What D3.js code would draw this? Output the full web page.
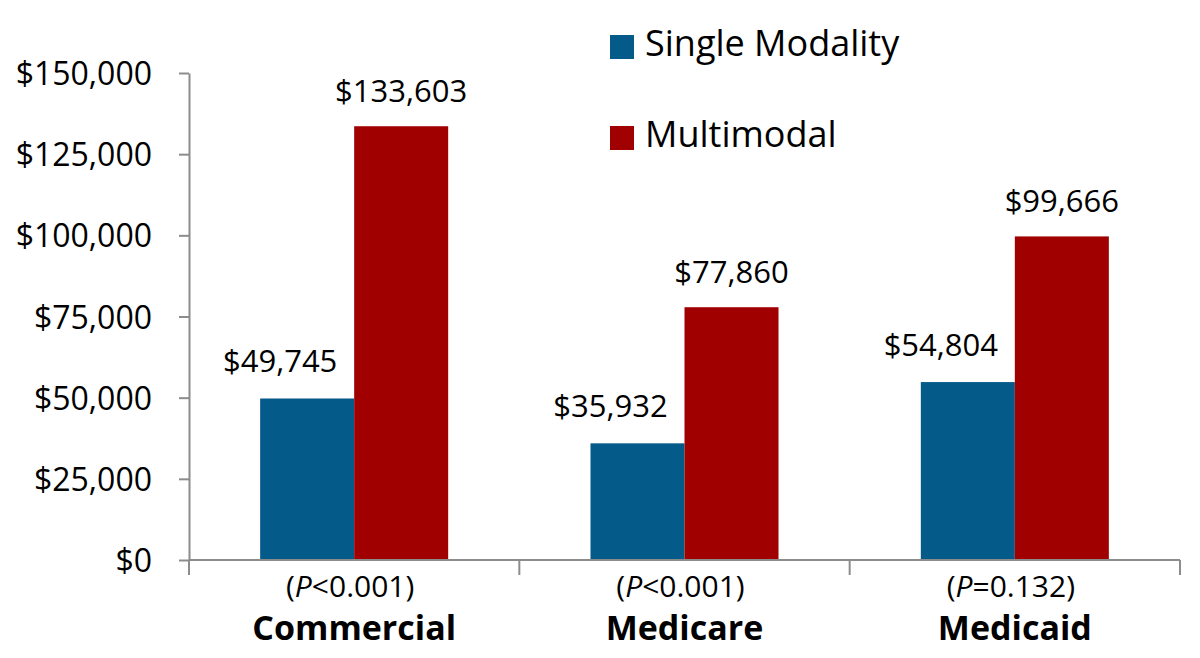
<!DOCTYPE html>
<html>
<head>
<meta charset="utf-8">
<script src="https://cdn.jsdelivr.net/npm/d3@7"></script>
<style>
  html, body { margin: 0; padding: 0; background: #fff; }
  svg { display: block; font-family: "Open Sans", "Noto Sans", sans-serif; }
</style>
</head>
<body>
<svg id="chart" width="1200" height="658"></svg>
<script>
const categories = ["Commercial", "Medicare", "Medicaid"];
const pValues = ["<0.001", "<0.001", "=0.132"];
const seriesNames = ["Single Modality", "Multimodal"];
const singleModality = [49745, 35932, 54804];
const multimodal = [133603, 77860, 99666];
const yTicks = [0, 25000, 50000, 75000, 100000, 125000, 150000];
const colors = ["#045A88", "#A00000"];

const W = 1200, H = 658;
const margin = { top: 73, right: 20, bottom: 98, left: 189 };
const svg = d3.select("#chart");

const x0 = d3.scaleBand().domain(categories)
  .range([margin.left, W - margin.right]).paddingInner(0).paddingOuter(0);
const x1 = d3.scaleBand().domain(seriesNames)
  .range([0, x0.bandwidth()]).paddingInner(0).paddingOuter(0.757);
const y = d3.scaleLinear().domain([0, 150000]).range([H - margin.bottom, margin.top]);

const fmt = d3.format("$,");
const axisColor = "#8C8C8C";

// Y axis
const yAxis = svg.append("g")
  .attr("transform", `translate(${margin.left},0)`)
  .call(d3.axisLeft(y).tickValues(yTicks).tickFormat(fmt).tickSize(10).tickSizeOuter(0).tickPadding(27));
yAxis.select(".domain").attr("stroke", axisColor).attr("stroke-width", 2);
yAxis.selectAll(".tick line").attr("stroke", axisColor).attr("stroke-width", 2);
yAxis.selectAll(".tick text").attr("fill", "#000").style("font-size", "32px")
  .style("font-family", "'Open Sans', sans-serif").attr("dy", "0.36em");

// Bars
const series = [singleModality, multimodal];
const rows = categories.map((c, i) => ({ cat: c, vals: series.map((s, k) => ({ name: seriesNames[k], k, v: s[i] })) }));

const groups = svg.append("g").selectAll("g").data(rows).join("g")
  .attr("transform", d => `translate(${x0(d.cat)},0)`);

groups.selectAll("rect").data(d => d.vals).join("rect")
  .attr("x", d => x1(d.name))
  .attr("y", d => y(d.v))
  .attr("width", x1.bandwidth())
  .attr("height", d => y(0) - y(d.v))
  .attr("fill", d => colors[d.k]);

// Value labels
groups.selectAll("text.val").data(d => d.vals).join("text")
  .attr("class", "val")
  .attr("x", d => x1(d.name) + x1.bandwidth() / 2 + (d.k === 0 ? -27 : 0))
  .attr("y", d => y(d.v) - (d.k === 0 ? 26 : 24))
  .attr("text-anchor", "middle")
  .style("font-size", "31px")
  .attr("fill", "#000")
  .text(d => fmt(d.v));

// X axis
const xAxisG = svg.append("g");
const baseY = y(0);
xAxisG.append("line")
  .attr("x1", margin.left).attr("x2", W - margin.right)
  .attr("y1", baseY).attr("y2", baseY)
  .attr("stroke", axisColor).attr("stroke-width", 2);
const edges = categories.map(c => x0(c)).concat([x0(categories[categories.length - 1]) + x0.bandwidth()]);
xAxisG.selectAll("line.tick").data(edges).join("line")
  .attr("class", "tick")
  .attr("x1", d => d).attr("x2", d => d)
  .attr("y1", baseY).attr("y2", baseY + 15)
  .attr("stroke", axisColor).attr("stroke-width", 2);

// Category labels
const catLabels = svg.append("g").selectAll("g").data(categories).join("g")
  .attr("transform", c => `translate(${x0(c) + x0.bandwidth() / 2},0)`);
const pText = catLabels.append("text")
  .attr("x", -4).attr("y", 597).attr("text-anchor", "middle")
  .style("font-size", "30px").attr("fill", "#000");
pText.append("tspan").text("(");
pText.append("tspan").style("font-style", "italic").text("P");
pText.append("tspan").text((c, i) => pValues[i] + ")");
catLabels.append("text")
  .attr("y", 640).attr("text-anchor", "middle")
  .style("font-size", "34px").style("font-weight", "bold").attr("fill", "#000")
  .text(c => c);

// Legend
const legend = svg.append("g").selectAll("g").data(seriesNames).join("g")
  .attr("transform", (d, i) => `translate(610,${35 + i * 91})`);
legend.append("rect").attr("width", 24).attr("height", 24).attr("fill", (d, i) => colors[i]);
legend.append("text").attr("x", 35).attr("y", 21)
  .style("font-size", "36px").attr("fill", "#000").text(d => d);
</script>
</body>
</html>
